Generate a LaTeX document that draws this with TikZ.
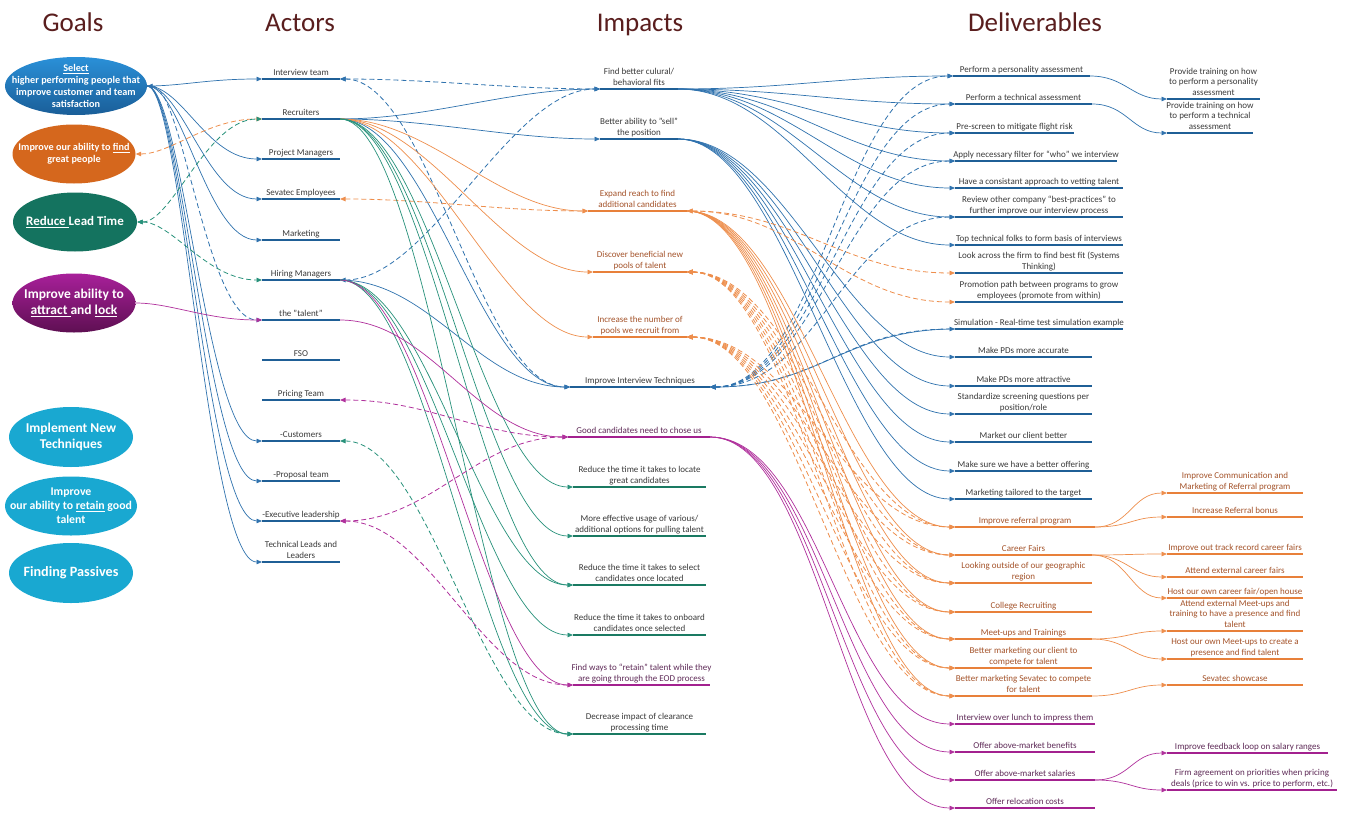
\documentclass[tikz,border=0pt]{standalone}
\usepackage{fontspec}
\setmainfont{Carlito}
\usetikzlibrary{arrows.meta,shapes.geometric}
\definecolor{barB}{HTML}{1F5F96}
\definecolor{lnB}{HTML}{2F72AE}
\definecolor{barO}{HTML}{E8803A}
\definecolor{lnO}{HTML}{EE8E4C}
\definecolor{txO}{HTML}{A4532A}
\definecolor{barG}{HTML}{1A7A62}
\definecolor{lnG}{HTML}{27917A}
\definecolor{barP}{HTML}{A3218F}
\definecolor{lnP}{HTML}{B0309C}
\definecolor{txP}{HTML}{5E2A57}
\definecolor{txD}{HTML}{3A3A3A}
\definecolor{ttl}{HTML}{5A1E1E}
\definecolor{gBa}{HTML}{2A90D8}
\definecolor{gBb}{HTML}{1A5E98}
\definecolor{gO}{HTML}{D5671D}
\definecolor{gG}{HTML}{14735F}
\definecolor{gPa}{HTML}{A8209A}
\definecolor{gPb}{HTML}{5E0F52}
\definecolor{gC}{HTML}{19A8D1}
\pgfdeclarelayer{bg}
\pgfsetlayers{bg,main}
\newcommand{\itm}[7]{%
  \draw[line width=2.6pt,#5] (#2,#4) coordinate (#1-l) -- (#3,#4) coordinate (#1-r);
  \node[lbl,text=#6] (#1) at ({(#2+#3)/2},#4) {#7};}
\tikzset{
  lbl/.style={anchor=south, align=center, font=\fontsize{9}{10.5}\selectfont, inner xsep=0pt, inner ysep=1pt, text depth=2.5pt},
  goal/.style={ellipse, draw=none, inner sep=0pt},
  gtxt/.style={text=white, align=center, inner sep=0pt},
  ttlS/.style={font=\fontsize{27}{30}\selectfont, text=ttl, anchor=base, inner sep=0pt},
  con/.style={->, line width=0.7pt},
  dcon/.style={<->, line width=0.8pt, dash pattern=on 5pt off 3pt},
  g2a/.style={out=0,in=180,out distance=35pt,in distance=55pt},
  a2i/.style={out=0,in=180,distance=90pt},
  i2d/.style={out=0,in=180,distance=110pt},
  d2r/.style={out=0,in=180,distance=35pt},
}
\begin{document}
\begin{tikzpicture}[x=1pt,y=-1pt,>={Triangle[length=5.5pt,width=4.5pt]}]
\useasboundingbox (0,0) rectangle (1347,819);
\begin{pgfonlayer}{bg}
\fill[white] (0,0) rectangle (1347,819);
\end{pgfonlayer}
% titles
\node[ttlS] (tG) at (73,31) {Goals};
\node[ttlS] (tA) at (300,31) {Actors};
\node[ttlS] (tI) at (640,31) {Impacts};
\node[ttlS] (tD) at (1035,31) {Deliverables};
% goals
\node[goal, minimum width=142pt, minimum height=58pt, top color=gBa, bottom color=gBb] (gSel) at (76,86) {};
\node[gtxt, font=\bfseries\fontsize{10.2}{12}\selectfont] (gSelT) at (gSel) {\underline{Select}\\higher performing people that\\improve customer and team\\satisfaction};
\node[goal, minimum width=123pt, minimum height=59pt, fill=gO] (gFind) at (74,154) {};
\node[gtxt, font=\bfseries\fontsize{10.2}{12}\selectfont] (gFindT) at (gFind) {Improve our ability to \underline{find}\\great people};
\node[goal, minimum width=124pt, minimum height=59pt, fill=gG] (gRed) at (75,222) {};
\node[gtxt, font=\bfseries\fontsize{13}{15}\selectfont] (gRedT) at (gRed) {\underline{Reduce }Lead Time};
\node[goal, minimum width=123pt, minimum height=59pt, top color=gPa, bottom color=gPb] (gAtt) at (74,303) {};
\node[gtxt, font=\bfseries\fontsize{13.5}{16.5}\selectfont] (gAttT) at (gAtt) {Improve ability to\\\underline{attract }and \underline{lock}};
\node[goal, minimum width=124pt, minimum height=60pt, fill=gC] (gImp) at (71,437) {};
\node[gtxt, font=\bfseries\fontsize{13.5}{16}\selectfont] (gImpT) at (gImp) {Implement New\\Techniques};
\node[goal, minimum width=132pt, minimum height=59pt, fill=gC] (gRet) at (71,506) {};
\node[gtxt, font=\bfseries\fontsize{11.8}{14}\selectfont] (gRetT) at (gRet) {Improve\\our ability to \underline{retain} good\\talent};
\node[goal, minimum width=124pt, minimum height=60pt, fill=gC] (gPas) at (71,573) {};
\node[gtxt, font=\bfseries\fontsize{14.2}{16}\selectfont] (gPasT) at (gPas) {Finding Passives};
% actors
\itm{aIT}{262}{340}{79}{barB}{txD}{Interview team}
\itm{aRec}{262}{340}{119}{barB}{txD}{Recruiters}
\itm{aPM}{262}{340}{159}{barB}{txD}{Project Managers}
\itm{aSE}{262}{340}{199}{barB}{txD}{Sevatec Employees}
\itm{aMk}{262}{340}{240}{barB}{txD}{Marketing}
\itm{aHM}{262}{340}{280}{barB}{txD}{Hiring Managers}
\itm{aTal}{262}{340}{320}{barB}{txD}{the "talent"}
\itm{aFSO}{262}{340}{360}{barB}{txD}{FSO}
\itm{aPT}{262}{340}{400}{barB}{txD}{Pricing Team}
\itm{aCu}{262}{340}{441}{barB}{txD}{-Customers}
\itm{aPr}{262}{340}{481}{barB}{txD}{-Proposal team}
\itm{aEx}{262}{340}{521}{barB}{txD}{-Executive leadership}
\itm{aTL}{262}{340}{562}{barB}{txD}{Technical Leads and\\Leaders}
% impacts
\itm{iFit}{600}{678}{89}{barB}{txD}{Find better culural/\\behavioral fits}
\itm{iSell}{600}{678}{139}{barB}{txD}{Better ability to "sell"\\the position}
\itm{iExp}{588}{687}{211}{barO}{txO}{Expand reach to find\\additional candidates}
\itm{iDis}{593}{687}{272}{barO}{txO}{Discover beneficial new\\pools of talent}
\itm{iInc}{593}{687}{337}{barO}{txO}{Increase the number of\\pools we recruit from}
\itm{iIIT}{570}{710}{387}{barB}{txD}{Improve Interview Techniques}
\itm{iGood}{568}{710}{437}{barP}{txP}{Good candidates need to chose us}
\itm{iLoc}{573}{706}{487}{barG}{txD}{Reduce the time it takes to locate\\great candidates}
\itm{iEff}{573}{706}{536}{barG}{txD}{More effective usage of various/\\additional options for pulling talent}
\itm{iSel}{573}{706}{585}{barG}{txD}{Reduce the time it takes to select\\candidates once located}
\itm{iOnb}{573}{706}{635}{barG}{txD}{Reduce the time it takes to onboard\\candidates once selected}
\itm{iRet}{573}{710}{685}{barP}{txP}{Find ways to “retain” talent while they\\are going through the EOD process}
\itm{iClr}{573}{706}{734}{barG}{txD}{Decrease impact of clearance\\processing time}
% deliverables
\itm{dPers}{953}{1090}{76}{barB}{txD}{Perform a personality assessment}
\itm{dTech}{955}{1092}{104}{barB}{txD}{Perform a technical assessment}
\itm{dPre}{955}{1074}{133}{barB}{txD}{Pre-screen to mitigate flight risk}
\itm{dFil}{955}{1117}{161}{barB}{txD}{Apply necessary filter for “who” we interview}
\itm{dCon}{955}{1123}{188}{barB}{txD}{Have a consistant approach to vetting talent}
\itm{dRev}{955}{1123}{217}{barB}{txD}{Review other company “best-practices” to\\further improve our interview process}
\itm{dTop}{955}{1123}{245}{barB}{txD}{Top technical folks to form basis of interviews}
\itm{dLook}{955}{1123}{273}{barB}{txD}{Look across the firm to find best fit (Systems\\Thinking)}
\itm{dProm}{955}{1123}{302}{barB}{txD}{Promotion path between programs to grow\\employees (promote from within)}
\itm{dSim}{955}{1123}{329}{barB}{txD}{Simulation - Real-time test simulation example}
\itm{dPDa}{955}{1092}{357}{barB}{txD}{Make PDs more accurate}
\itm{dPDt}{955}{1092}{386}{barB}{txD}{Make PDs more attractive}
\itm{dStd}{955}{1092}{414}{barB}{txD}{Standardize screening questions per\\position/role}
\itm{dMkt}{955}{1092}{442}{barB}{txD}{Market our client better}
\itm{dOff}{955}{1092}{471}{barB}{txD}{Make sure we have a better offering}
\itm{dTgt}{955}{1092}{499}{barB}{txD}{Marketing tailored to the target}
\itm{dRef}{955}{1095}{527}{barO}{txO}{Improve referral program}
\itm{dCF}{955}{1092}{555}{barO}{txO}{Career Fairs}
\itm{dGeo}{955}{1092}{583}{barO}{txO}{Looking outside of our geographic\\region}
\itm{dCol}{955}{1092}{612}{barO}{txO}{College Recruiting}
\itm{dMeet}{955}{1092}{639}{barO}{txO}{Meet-ups and Trainings}
\itm{dBMc}{955}{1092}{668}{barO}{txO}{Better marketing our client to\\compete for talent}
\itm{dBMs}{955}{1092}{696}{barO}{txO}{Better marketing Sevatec to compete\\for talent}
\itm{dLun}{955}{1095}{724}{barP}{txP}{Interview over lunch to impress them}
\itm{dBen}{955}{1095}{752}{barP}{txP}{Offer above-market benefits}
\itm{dSal}{955}{1095}{780}{barP}{txP}{Offer above-market salaries}
\itm{dRel}{955}{1095}{808}{barP}{txP}{Offer relocation costs}
% right column
\itm{rPers}{1167}{1260}{99}{barB}{txD}{Provide training on how\\to perform a personality\\assessment}
\itm{rTech}{1167}{1253}{133}{barB}{txD}{Provide training on how\\to perform a technical\\assessment}
\itm{rCom}{1167}{1303}{493}{barO}{txO}{Improve Communication and\\Marketing of Referral program}
\itm{rBon}{1167}{1303}{517}{barO}{txO}{Increase Referral bonus}
\itm{rTrk}{1167}{1303}{554}{barO}{txO}{Improve out track record career fairs}
\itm{rAtt}{1167}{1303}{577}{barO}{txO}{Attend external career fairs}
\itm{rHost}{1167}{1303}{598}{barO}{txO}{Host our own career fair/open house}
\itm{rAMu}{1167}{1303}{631}{barO}{txO}{Attend external Meet-ups and\\training to have a presence and find\\talent}
\itm{rHMu}{1167}{1303}{659}{barO}{txO}{Host our own Meet-ups to create a\\presence and find talent}
\itm{rShow}{1167}{1303}{685}{barO}{txO}{Sevatec showcase}
\itm{rFb}{1167}{1328}{753}{barP}{txP}{Improve feedback loop on salary ranges}
\itm{rFirm}{1167}{1337}{790}{barP}{txP}{Firm agreement on priorities when pricing\\deals (price to win vs. price to perform, etc.)}
% connectors
\begin{pgfonlayer}{bg}
% goals -> actors
\foreach \t in {aIT,aPM,aSE,aMk,aCu,aPr,aEx,aTL}
  \draw[con,lnB] (gSel.east) to[g2a] (\t-l);
\draw[dcon,lnB] (gSel.east) to[g2a] (aTal-l);
\draw[dcon,lnO] (gFind.east) to[g2a] (aRec-l);
\draw[dcon,lnG] (gRed.east) to[g2a] (aRec-l);
\draw[dcon,lnG] (gRed.east) to[g2a] (aHM-l);
\draw[con,lnP] (gAtt.east) to[g2a] (aTal-l);
% actors -> impacts
\foreach \t in {iFit,iSell,iIIT}
  \draw[con,lnB] (aRec-r) to[a2i] (\t-l);
\draw[con,lnB] (aHM-r) to[a2i] (iIIT-l);
\draw[dcon,lnB] (aIT-r) to[a2i] (iFit-l);
\draw[dcon,lnB] (aIT-r) to[a2i] (iIIT-l);
\draw[dcon,lnB] (aHM-r) to[a2i] (iFit-l);
\foreach \t in {iExp,iDis,iInc}
  \draw[con,lnO] (aRec-r) to[a2i] (\t-l);
\draw[dcon,lnO] (aSE-r) to[a2i] (iExp-l);
\foreach \t in {iLoc,iEff,iSel,iClr}
  \draw[con,lnG] (aRec-r) to[a2i] (\t-l);
\foreach \t in {iSel,iOnb,iClr}
  \draw[con,lnG] (aHM-r) to[a2i] (\t-l);
\draw[con,lnP] (aTal-r) to[a2i] (iGood-l);
\draw[con,lnP] (aHM-r) to[a2i] (iRet-l);
\draw[dcon,lnP] (aPT-r) to[a2i] (iGood-l);
\draw[dcon,lnP] (aEx-r) to[a2i] (iGood-l);
\draw[dcon,lnP] (aEx-r) to[a2i] (iRet-l);
\draw[dcon,lnG] (aCu-r) to[a2i] (iClr-l);
% impacts -> deliverables
\foreach \t in {dPers,dTech,dPre,dFil,dCon,dRev,dTop}
  \draw[con,lnB] (iFit-r) to[i2d] (\t-l);
\foreach \t in {dPDa,dPDt,dStd,dMkt,dOff,dTgt}
  \draw[con,lnB] (iSell-r) to[i2d] (\t-l);
\foreach \t in {dPers,dTech,dPre,dFil,dRev,dSim}
  \draw[dcon,lnB] (iIIT-r) to[i2d] (\t-l);
\draw[con,lnB] (dSim-l) to[out=180,in=0,distance=110pt] (iIIT-r);
\foreach \t in {dRef,dCF,dGeo,dCol,dMeet,dBMc,dBMs}
  \draw[con,lnO] (iExp-r) to[i2d] (\t-l);
\foreach \t in {dLook,dProm}
  \draw[dcon,lnO] (iExp-r) to[i2d] (\t-l);
\foreach \t in {dRef,dCF,dGeo,dCol,dMeet,dBMc,dBMs}{
  \draw[dcon,lnO] (iDis-r) to[i2d] (\t-l);
  \draw[dcon,lnO] (iInc-r) to[i2d] (\t-l);}
\foreach \t in {dLun,dBen,dSal,dRel}
  \draw[con,lnP] (iGood-r) to[i2d] (\t-l);
% deliverables -> right column
\draw[con,lnB] (dPers-r) to[d2r] (rPers-l);
\draw[con,lnB] (dTech-r) to[d2r] (rTech-l);
\foreach \t in {rCom,rBon}
  \draw[con,lnO] (dRef-r) to[d2r] (\t-l);
\foreach \t in {rTrk,rAtt,rHost}
  \draw[con,lnO] (dCF-r) to[d2r] (\t-l);
\foreach \t in {rAMu,rHMu}
  \draw[con,lnO] (dMeet-r) to[d2r] (\t-l);
\draw[con,lnO] (dBMs-r) to[d2r] (rShow-l);
\foreach \t in {rFb,rFirm}
  \draw[con,lnP] (dSal-r) to[d2r] (\t-l);
\end{pgfonlayer}
\end{tikzpicture}
\end{document}
